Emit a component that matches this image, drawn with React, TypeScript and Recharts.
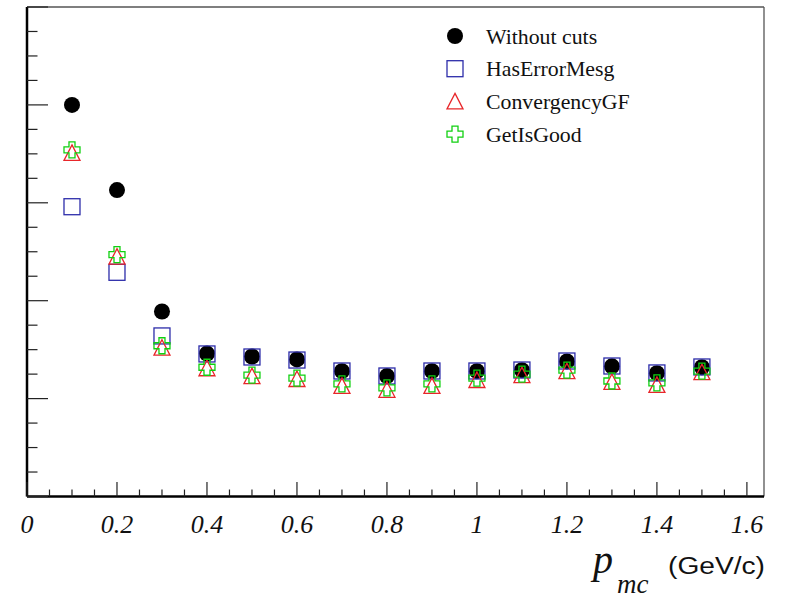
import React from "react";
import {
  Legend,
  ReferenceLine,
  Scatter,
  ScatterChart,
  XAxis,
  YAxis,
} from "recharts";

// momentum bins (GeV/c)
const momenta = [0.1, 0.2, 0.3, 0.4, 0.5, 0.6, 0.7, 0.8, 0.9, 1.0, 1.1, 1.2, 1.3, 1.4, 1.5];

// values (y axis has no labels, one major tick = 1)
const withoutCuts = [4.0, 3.13, 1.89, 1.46, 1.43, 1.4, 1.28, 1.23, 1.28, 1.28, 1.29, 1.38, 1.33, 1.26, 1.32];
const hasErrorMesg = [2.96, 2.29, 1.64, 1.456, 1.425, 1.394, 1.282, 1.231, 1.282, 1.282, 1.292, 1.384, 1.333, 1.262, 1.323];
const convergencyGF = [3.51, 2.45, 1.52, 1.31, 1.23, 1.2, 1.13, 1.09, 1.13, 1.19, 1.24, 1.28, 1.17, 1.14, 1.27];
const getIsGood = [3.54, 2.47, 1.54, 1.32, 1.24, 1.21, 1.15, 1.11, 1.15, 1.21, 1.25, 1.29, 1.18, 1.16, 1.28];

const xTicks = [
  0, 0.05, 0.1, 0.15, 0.2, 0.25, 0.3, 0.35, 0.4, 0.45, 0.5, 0.55, 0.6, 0.65, 0.7, 0.75, 0.8,
  0.85, 0.9, 0.95, 1.0, 1.05, 1.1, 1.15, 1.2, 1.25, 1.3, 1.35, 1.4, 1.45, 1.5, 1.55, 1.6,
];
const yTicks = [
  0, 0.25, 0.5, 0.75, 1, 1.25, 1.5, 1.75, 2, 2.25, 2.5, 2.75, 3, 3.25, 3.5, 3.75, 4, 4.25,
  4.5, 4.75, 5,
];

const SERIF = "'Liberation Serif', 'Times New Roman', serif";
const SANS = "'Liberation Sans', Arial, sans-serif";

const BLUE = "#2d2daa";
const RED = "#e8262a";
const GREEN = "#10d010";

const FilledCircle = ({ cx, cy }: any) => <circle cx={cx} cy={cy} r={8} fill="#000" />;

const OpenSquare = ({ cx, cy }: any) => (
  <rect x={cx - 8} y={cy - 8} width={16} height={16} fill="none" stroke={BLUE} strokeWidth={1.3} />
);

const OpenTriangle = ({ cx, cy }: any) => (
  <polygon
    points={`${cx},${cy - 8} ${cx + 8},${cy + 7.5} ${cx - 8},${cy + 7.5}`}
    fill="none"
    stroke={RED}
    strokeWidth={1.3}
  />
);

const OpenCross = ({ cx, cy }: any) => {
  const s = 8;
  const a = 3;
  const pts = [
    [-a, -s], [a, -s], [a, -a], [s, -a], [s, a], [a, a],
    [a, s], [-a, s], [-a, a], [-s, a], [-s, -a], [-a, -a],
  ]
    .map(([dx, dy]) => `${cx + dx},${cy + dy}`)
    .join(" ");
  return <polygon points={pts} fill="none" stroke={GREEN} strokeWidth={1.3} />;
};

const series = [
  { name: "Without cuts", values: withoutCuts, Shape: FilledCircle },
  { name: "HasErrorMesg", values: hasErrorMesg, Shape: OpenSquare },
  { name: "ConvergencyGF", values: convergencyGF, Shape: OpenTriangle },
  { name: "GetIsGood", values: getIsGood, Shape: OpenCross },
];

const isMajorX = (v: number) => Math.abs(v * 5 - Math.round(v * 5)) < 1e-6;

const XTick = ({ x, y, payload }: any) => {
  const v = payload.value as number;
  const major = isMajorX(v);
  return (
    <g>
      <line x1={x} x2={x} y1={y} y2={y - (major ? 14.5 : 7)} stroke="#222" strokeWidth={1.2} />
      {major && (
        <text
          x={x}
          y={y + 36.5}
          textAnchor="middle"
          fontFamily={SERIF}
          fontStyle="italic"
          fontSize={26}
          fill="#111"
        >
          {String(Number(v.toFixed(1)))}
        </text>
      )}
    </g>
  );
};

const YTick = ({ x, y, payload }: any) => {
  const major = Number.isInteger(payload.value);
  return <line x1={x} x2={x + (major ? 21 : 10.5)} y1={y} y2={y} stroke="#222" strokeWidth={1.2} />;
};

const AxisTitle = ({ viewBox }: any) => {
  const right = viewBox.x + viewBox.width;
  const base = viewBox.y;
  return (
    <g fill="#111">
      <text x={right - 171} y={base + 76.5} fontFamily={SERIF} fontStyle="italic" fontSize={40}>
        p
      </text>
      <text x={right - 147} y={base + 96} fontFamily={SERIF} fontStyle="italic" fontSize={27}>
        mc
      </text>
      <text
        x={right - 96}
        y={base + 77}
        fontFamily={SANS}
        fontSize={23}
        textLength={97}
        lengthAdjust="spacingAndGlyphs"
      >
        (GeV/c)
      </text>
    </g>
  );
};

const LegendBox = () => (
  <svg width={260} height={140}>
    {series.map(({ name, Shape }, i) => {
      const cy = 21 + i * 32.7;
      return (
        <g key={name}>
          <Shape cx={25} cy={cy} />
          <text x={56} y={cy + 7.5} fontFamily={SERIF} fontSize={21.8} fill="#111">
            {name}
          </text>
        </g>
      );
    })}
  </svg>
);

export default function App() {
  return (
    <div style={{ position: "absolute", left: 0, top: 0, width: 787, height: 597, background: "#fff" }}>
      <ScatterChart
        width={787}
        height={597}
        margin={{ top: 7, right: 23, left: 26, bottom: 99.5 }}
      >
        <XAxis
          type="number"
          dataKey="x"
          domain={[0, 1.638]}
          ticks={xTicks}
          interval={0}
          tickSize={0}
          tickMargin={0}
          tickLine={false}
          tick={<XTick />}
          height={1}
          axisLine={{ stroke: "#000", strokeWidth: 2.5 }}
          allowDataOverflow
          label={{ content: <AxisTitle /> }}
        />
        <YAxis
          type="number"
          dataKey="y"
          domain={[0, 5]}
          ticks={yTicks}
          interval={0}
          tickSize={0}
          tickMargin={0}
          tickLine={false}
          tick={<YTick />}
          width={1}
          axisLine={{ stroke: "#000", strokeWidth: 2.5 }}
          allowDataOverflow
        />
        <ReferenceLine y={5} stroke="#555" strokeWidth={1.3} />
        <ReferenceLine x={1.638} stroke="#555" strokeWidth={1.3} />
        {series.map(({ name, values, Shape }) => (
          <Scatter
            key={name}
            name={name}
            data={momenta.map((x, i) => ({ x, y: values[i] }))}
            shape={(p: any) => <Shape cx={p.cx} cy={p.cy} />}
            isAnimationActive={false}
          />
        ))}
        <Legend
          layout="vertical"
          align="center"
          verticalAlign="middle"
          content={<LegendBox />}
          wrapperStyle={{ position: "absolute", left: 430, top: 15, width: 260, height: 140 }}
        />
      </ScatterChart>
    </div>
  );
}
